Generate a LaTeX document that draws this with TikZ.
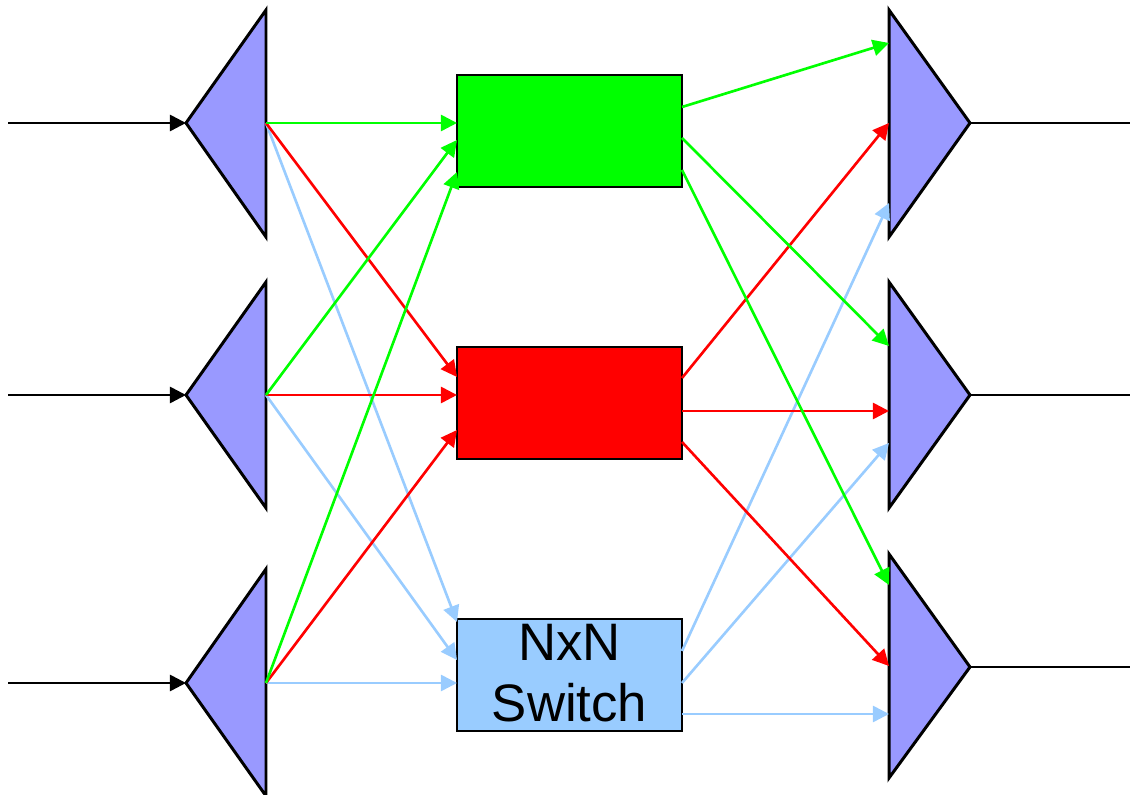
\documentclass[tikz,border=0pt]{standalone}
\usepackage{fontspec}
\setmainfont{Liberation Sans}
\usetikzlibrary{arrows.meta}
\definecolor{tri}{HTML}{9999FF}
\definecolor{gr}{HTML}{00FF00}
\definecolor{rd}{HTML}{FF0000}
\definecolor{lb}{HTML}{99CCFF}
\tikzset{
  trishape/.style={draw=black, fill=tri, line width=0.85pt, line join=miter},
  box/.style={draw=black, line width=0.8pt, inner sep=0pt, minimum width=2.25cm, minimum height=1.12cm, align=center, font=\fontsize{15pt}{17.2pt}\selectfont},
  conn/.style={line width=0.75pt, -{Triangle[length=4.6pt,width=4.6pt]}},
  blk/.style={line width=0.75pt, black}
}
\begin{document}
\begin{tikzpicture}[x=0.01cm, y=-0.01cm]
\useasboundingbox (0,0) rectangle (1130,795);
% left triangles
\draw[trishape] (266,10) -- (266,237) -- (186,123) -- cycle;
\draw[trishape] (266,282) -- (266,508) -- (186,395) -- cycle;
\draw[trishape] (266,569) -- (266,796) -- (186,683) -- cycle;
% right triangles
\draw[trishape] (889,10) -- (889,237) -- (970,123) -- cycle;
\draw[trishape] (889,282) -- (889,508) -- (970,395) -- cycle;
\draw[trishape] (889,554) -- (889,778) -- (970,667) -- cycle;
% tips
\coordinate (in1) at (8,123);   \coordinate (L1) at (186,123);
\coordinate (in2) at (8,395);   \coordinate (L2) at (186,395);
\coordinate (in3) at (8,683);   \coordinate (L3) at (186,683);
\coordinate (o1) at (266,123);  \coordinate (o2) at (266,395);  \coordinate (o3) at (266,683);
\coordinate (R1) at (970,123);  \coordinate (out1) at (1130,123);
\coordinate (R2) at (970,395);  \coordinate (out2) at (1130,395);
\coordinate (R3) at (970,667);  \coordinate (out3) at (1130,667);
% boxes
\node[box, fill=gr] (G) at (569.5,131) {};
\node[box, fill=rd] (Rd) at (569.5,403) {};
\node[box, fill=lb] (B) at (569.5,675) {};
\node[font=\fontsize{15pt}{17.2pt}\selectfont, align=center, inner sep=0pt] (Blabel) at (569.5,673) {NxN\\Switch};
% box ports
\coordinate (gi1) at (457,123); \coordinate (gi2) at (457,140); \coordinate (gi3) at (457,172);
\coordinate (ri1) at (457,377); \coordinate (ri2) at (457,395); \coordinate (ri3) at (457,430);
\coordinate (bi1) at (457,622); \coordinate (bi2) at (457,660); \coordinate (bi3) at (457,683);
\coordinate (go1) at (682,107); \coordinate (go2) at (682,138); \coordinate (go3) at (682,170);
\coordinate (ro1) at (682,378); \coordinate (ro2) at (682,411); \coordinate (ro3) at (682,442);
\coordinate (bo1) at (682,651); \coordinate (bo2) at (682,683); \coordinate (bo3) at (682,714);
% right ports
\coordinate (a1) at (889,43);  \coordinate (a2) at (889,123); \coordinate (a3) at (889,203);
\coordinate (b1) at (889,346); \coordinate (b2) at (889,411); \coordinate (b3) at (889,443);
\coordinate (c1) at (889,585); \coordinate (c2) at (889,666); \coordinate (c3) at (889,714);
% inputs / outputs
\draw[blk, -{Triangle[length=4.6pt,width=4.6pt]}] (in1) -- (L1);
\draw[blk, -{Triangle[length=4.6pt,width=4.6pt]}] (in2) -- (L2);
\draw[blk, -{Triangle[length=4.6pt,width=4.6pt]}] (in3) -- (L3);
\draw[blk] (R1) -- (out1);
\draw[blk] (R2) -- (out2);
\draw[blk] (R3) -- (out3);
% left connectors
\draw[conn, lb] (o1) -- (bi1);
\draw[conn, lb] (o2) -- (bi2);
\draw[conn, lb] (o3) -- (bi3);
\draw[conn, rd] (o1) -- (ri1);
\draw[conn, rd] (o2) -- (ri2);
\draw[conn, rd] (o3) -- (ri3);
\draw[conn, gr] (o1) -- (gi1);
\draw[conn, gr] (o2) -- (gi2);
\draw[conn, gr] (o3) -- (gi3);
% right connectors
\draw[conn, lb] (bo1) -- (a3);
\draw[conn, lb] (bo2) -- (b3);
\draw[conn, lb] (bo3) -- (c3);
\draw[conn, rd] (ro1) -- (a2);
\draw[conn, rd] (ro2) -- (b2);
\draw[conn, rd] (ro3) -- (c2);
\draw[conn, gr] (go1) -- (a1);
\draw[conn, gr] (go2) -- (b1);
\draw[conn, gr] (go3) -- (c1);
\end{tikzpicture}
\end{document}
